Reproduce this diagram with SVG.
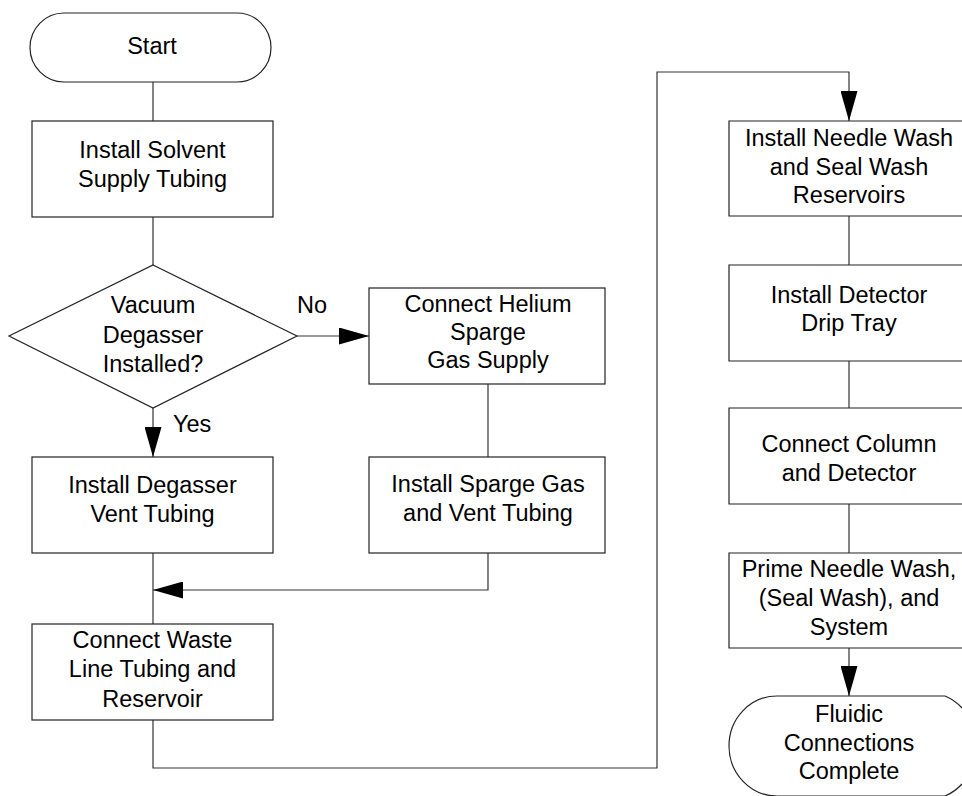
<svg xmlns="http://www.w3.org/2000/svg" width="962" height="796" viewBox="0 0 962 796">
<style>
.shape{fill:#fff;stroke:#222;stroke-width:1.2}
.conn{fill:none;stroke:#333;stroke-width:1.2}
text{font-family:"Liberation Sans",Arial,sans-serif;font-size:23.5px;fill:#000;text-anchor:middle}
.lbl{text-anchor:start}
</style>
<defs>
<marker id="arr" markerUnits="userSpaceOnUse" markerWidth="30" markerHeight="17" refX="30" refY="8.5" orient="auto">
<path d="M0,0 L30,8.5 L0,17 Z" fill="#000"/>
</marker>
</defs>
<rect width="962" height="796" fill="#fff"/>
<g id="connectors">
<path class="conn" d="M153,82 V121"/>
<path class="conn" d="M153,217 V265"/>
<path class="conn" d="M297,336 H369" marker-end="url(#arr)"/>
<path class="conn" d="M153,408 V457" marker-end="url(#arr)"/>
<path class="conn" d="M488,384 V457"/>
<path class="conn" d="M153,553 V624"/>
<path class="conn" d="M488,553 V590 H153" marker-end="url(#arr)"/>
<path class="conn" d="M153,720 V768 H657 V72 H849 V121" marker-end="url(#arr)"/>
<path class="conn" d="M849,216 V265"/>
<path class="conn" d="M849,361 V408"/>
<path class="conn" d="M849,504 V553"/>
<path class="conn" d="M849,648 V696" marker-end="url(#arr)"/>
<text class="lbl" x="297" y="313">No</text>
<text class="lbl" x="173" y="432">Yes</text>
</g>
<g id="start">
<rect class="shape" x="30" y="13" width="241" height="69" rx="34" ry="34.5"/>
<text x="152" y="54">Start</text>
</g>
<g id="solvent">
<rect class="shape" x="32" y="121" width="241" height="96"/>
<text x="152.5" y="158">Install Solvent</text>
<text x="152.5" y="187">Supply Tubing</text>
</g>
<g id="decision">
<polygon class="shape" points="153,265 297,336 153,408 9,336"/>
<text x="153" y="313">Vacuum</text>
<text x="153" y="343">Degasser</text>
<text x="153" y="372">Installed?</text>
</g>
<g id="helium">
<rect class="shape" x="369" y="288" width="236" height="96"/>
<text x="488" y="312">Connect Helium</text>
<text x="488" y="340">Sparge</text>
<text x="488" y="368">Gas Supply</text>
</g>
<g id="sparge">
<rect class="shape" x="369" y="457" width="236" height="96"/>
<text x="488" y="492">Install Sparge Gas</text>
<text x="488" y="521">and Vent Tubing</text>
</g>
<g id="degasser">
<rect class="shape" x="32" y="457" width="241" height="96"/>
<text x="152.5" y="493">Install Degasser</text>
<text x="152.5" y="522">Vent Tubing</text>
</g>
<g id="waste">
<rect class="shape" x="32" y="624" width="241" height="96"/>
<text x="152.5" y="648">Connect Waste</text>
<text x="152.5" y="677">Line Tubing and</text>
<text x="152.5" y="707">Reservoir</text>
</g>
<g id="needle">
<path class="shape" d="M962,121 H729 V216 H962"/>
<text x="849" y="146">Install Needle Wash</text>
<text x="849" y="175">and Seal Wash</text>
<text x="849" y="203">Reservoirs</text>
</g>
<g id="detector">
<path class="shape" d="M962,265 H729 V361 H962"/>
<text x="849" y="303">Install Detector</text>
<text x="849" y="331">Drip Tray</text>
</g>
<g id="column">
<path class="shape" d="M962,408 H729 V504 H962"/>
<text x="849" y="452">Connect Column</text>
<text x="849" y="481">and Detector</text>
</g>
<g id="prime">
<path class="shape" d="M962,553 H729 V648 H962"/>
<text x="849" y="577">Prime Needle Wash,</text>
<text x="849" y="606">(Seal Wash), and</text>
<text x="849" y="635">System</text>
</g>
<g id="end">
<path class="shape" d="M962,708 A48,50 0 0 0 945,696 H777 A48,50 0 0 0 777,796 H945 A48,50 0 0 0 962,784"/>
<text x="849" y="722">Fluidic</text>
<text x="849" y="751">Connections</text>
<text x="849" y="779">Complete</text>
</g>
</svg>
